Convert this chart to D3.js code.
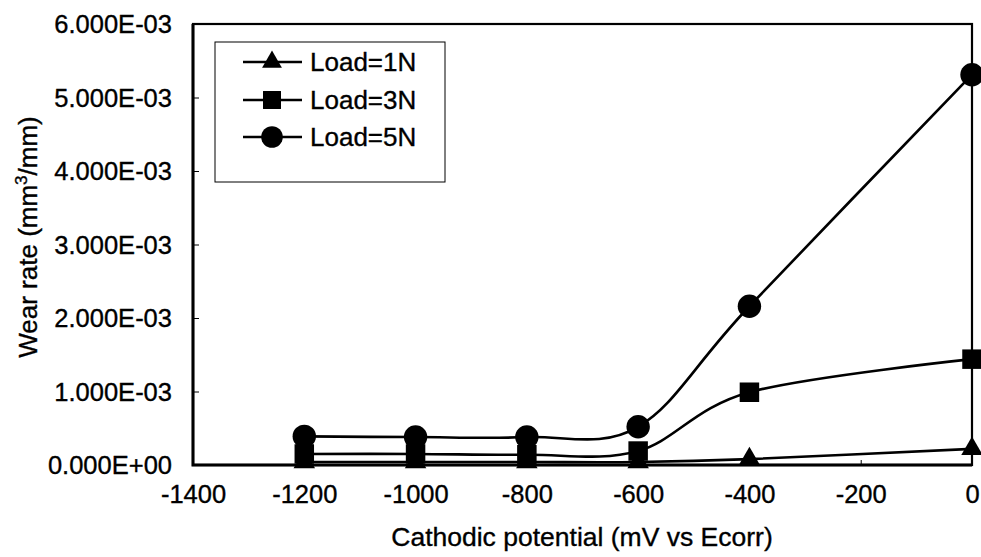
<!DOCTYPE html>
<html>
<head>
<meta charset="utf-8">
<script src="https://cdn.jsdelivr.net/npm/d3@7"></script>
<style>
  html, body { margin: 0; padding: 0; background: #fff; }
  svg text { font-family: "Liberation Sans", Arial, sans-serif; fill: #000; stroke: #000; stroke-width: 0.35px; }
</style>
</head>
<body>
<svg id="chart" width="981" height="557"></svg>
<script>
// Cathodic potential (mV vs Ecorr)
const potentials = [-1200, -1000, -800, -600, -400, 0];
// Wear rate (mm^3/mm) per applied load
const load1N = [0.00004, 0.00004, 0.00004, 0.00004, 0.00008, 0.00022];
const load3N = [0.00015, 0.00015, 0.00014, 0.00019, 0.00099, 0.00144];
const load5N = [0.00039, 0.00038, 0.00038, 0.00052, 0.00216, 0.00531];
const seriesNames = ["Load=1N", "Load=3N", "Load=5N"];
const xTicks = [-1400, -1200, -1000, -800, -600, -400, -200, 0];
const yTicks = [0, 0.001, 0.002, 0.003, 0.004, 0.005, 0.006];
const yTickLabels = ["0.000E+00", "1.000E-03", "2.000E-03", "3.000E-03", "4.000E-03", "5.000E-03", "6.000E-03"];

const series = [
  { name: seriesNames[0], values: load1N, shape: d3.symbolTriangle, size: 200 },
  { name: seriesNames[1], values: load3N, shape: d3.symbolSquare, size: 380 },
  { name: seriesNames[2], values: load5N, shape: d3.symbolCircle, size: 430 }
];

const svg = d3.select("#chart");
const m = { left: 193, right: 972, top: 24, bottom: 465 };

const x = d3.scaleLinear().domain([-1400, 0]).range([m.left, m.right]);
const y = d3.scaleLinear().domain([0, 0.006]).range([m.bottom, m.top]);

// Axes with short inward ticks
const yAxis = d3.axisLeft(y).tickValues(yTicks).tickSize(-6).tickPadding(21)
  .tickFormat((d, i) => yTickLabels[i]);
const xAxis = d3.axisBottom(x).tickValues(xTicks).tickSize(-5).tickPadding(20)
  .tickFormat(d => String(d));

const gy = svg.append("g").attr("transform", `translate(${m.left},0)`).call(yAxis);
const gx = svg.append("g").attr("transform", `translate(0,${m.bottom})`).call(xAxis);
[gx, gy].forEach(g => {
  g.select(".domain").remove();
  g.selectAll(".tick line").attr("stroke", "#000").attr("stroke-width", 1);
  g.selectAll(".tick text").style("font-size", "25.5px").attr("fill", "#000");
});
gy.selectAll(".tick text").attr("dy", "0.35em");
gx.selectAll(".tick text").attr("dy", "0.7em");

// Plot frame: lighter top/right, heavier left/bottom
svg.append("rect")
  .attr("x", m.left).attr("y", m.top)
  .attr("width", m.right - m.left).attr("height", m.bottom - m.top)
  .attr("fill", "none").attr("stroke", "#000").attr("stroke-width", 2.2);
svg.append("path")
  .attr("d", `M${m.left},${m.top}V${m.bottom}H${m.right}`)
  .attr("fill", "none").attr("stroke", "#000").attr("stroke-width", 3);

// Smoothed series lines
const line = d3.line()
  .x((d, i) => x(potentials[i]))
  .y(d => y(d))
  .curve(d3.curveCardinal.tension(0));

series.forEach(s => {
  svg.append("path")
    .attr("d", line(s.values))
    .attr("fill", "none").attr("stroke", "#000").attr("stroke-width", 2.6);
});

series.forEach(s => {
  const sym = d3.symbol().type(s.shape).size(s.size);
  svg.append("g").selectAll("path")
    .data(s.values)
    .join("path")
    .attr("d", sym)
    .attr("fill", "#000")
    .attr("transform", (d, i) => `translate(${x(potentials[i])},${y(d)})`);
});

// Legend
const legend = svg.append("g");
legend.append("rect")
  .attr("x", 215).attr("y", 42).attr("width", 230).attr("height", 140)
  .attr("fill", "#fff").attr("stroke", "#000").attr("stroke-width", 1);
const legendY = [62, 100, 137];
series.forEach((s, i) => {
  const ly = legendY[i];
  legend.append("line")
    .attr("x1", 243).attr("x2", 302).attr("y1", ly).attr("y2", ly)
    .attr("stroke", "#000").attr("stroke-width", 2.6);
  legend.append("path")
    .attr("d", d3.symbol().type(s.shape).size(s.size * 0.85)())
    .attr("fill", "#000")
    .attr("transform", `translate(272,${ly})`);
  legend.append("text")
    .attr("x", 310).attr("y", ly).attr("dy", "0.36em")
    .style("font-size", "26px")
    .text(s.name);
});

// Axis titles
svg.append("text")
  .attr("x", 582).attr("y", 537).attr("dy", "0.35em")
  .attr("text-anchor", "middle")
  .style("font-size", "26.5px")
  .text("Cathodic potential (mV vs Ecorr)");

const yTitle = svg.append("text")
  .attr("transform", "translate(37,237) rotate(-90)")
  .attr("text-anchor", "middle")
  .style("font-size", "26px");
yTitle.append("tspan").text("Wear rate (mm");
yTitle.append("tspan").attr("dy", "-10").style("font-size", "17px").text("3");
yTitle.append("tspan").attr("dy", "10").text("/mm)");
</script>
</body>
</html>
